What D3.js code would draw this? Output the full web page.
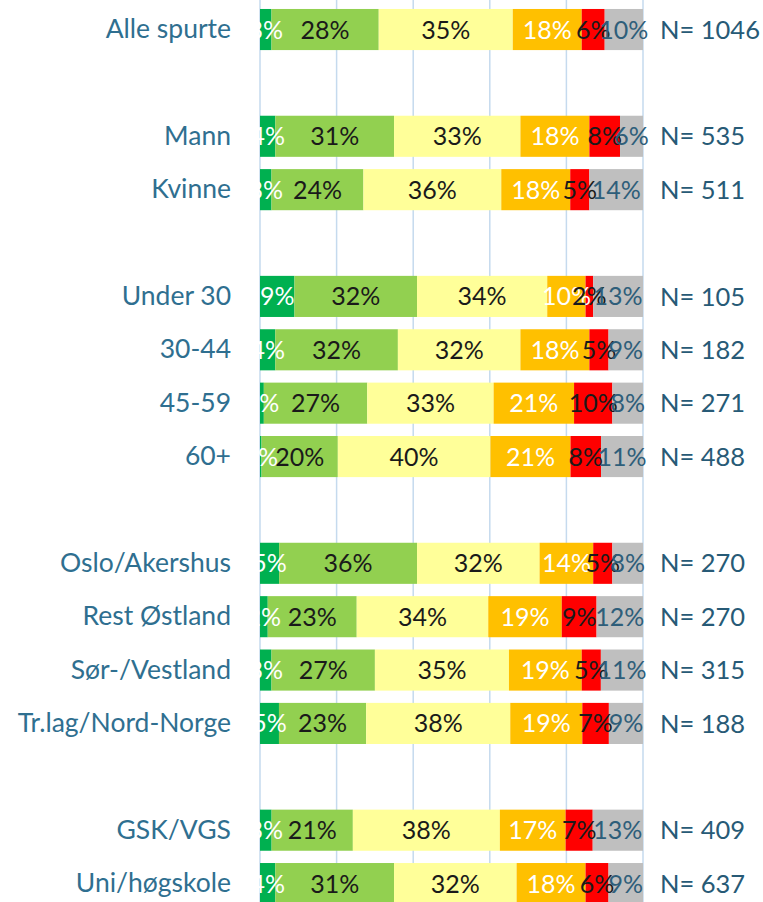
<!DOCTYPE html>
<html>
<head>
<meta charset="utf-8">
<script src="https://cdn.jsdelivr.net/npm/d3@7"></script>
<style>
  html, body { margin: 0; padding: 0; background: #ffffff; }
  svg { display: block; }
</style>
</head>
<body>
<svg id="chart" width="763" height="902"></svg>
<script>
// Row labels; empty strings are spacer rows between groups
const categories = ["Alle spurte", "", "Mann", "Kvinne", "", "Under 30", "30-44", "45-59", "60+", "",
  "Oslo/Akershus", "Rest Østland", "Sør-/Vestland", "Tr.lag/Nord-Norge", "", "GSK/VGS", "Uni/høgskole"];

// Share (%) per answer category, one array per series, aligned with categories
const seriesA = [3, null, 4, 3, null, 9, 4, 1, 0.4, null, 5, 2, 3, 5, null, 3, 4];
const seriesB = [28, null, 31, 24, null, 32, 32, 27, 20, null, 36, 23, 27, 23, null, 21, 31];
const seriesC = [35, null, 33, 36, null, 34, 32, 33, 40, null, 32, 34, 35, 38, null, 38, 32];
const seriesD = [18, null, 18, 18, null, 10, 18, 21, 21, null, 14, 19, 19, 19, null, 17, 18];
const seriesE = [6, null, 8, 5, null, 2, 5, 10, 8, null, 5, 9, 5, 7, null, 7, 6];
const seriesF = [10, null, 6, 14, null, 13, 9, 8, 11, null, 8, 12, 11, 9, null, 13, 9];

// Number of respondents per row
const nCounts = [1046, null, 535, 511, null, 105, 182, 271, 488, null, 270, 270, 315, 188, null, 409, 637];

const seriesKeys = ["a", "b", "c", "d", "e", "f"];
const seriesValues = [seriesA, seriesB, seriesC, seriesD, seriesE, seriesF];
const fillColors = ["#00B050", "#92D050", "#FFFF99", "#FFC000", "#FF0000", "#BFBFBF"];
const labelColors = ["#FFFFFF", "#1A1A1A", "#1A1A1A", "#FFFFFF", "#1A1A1A", "#2E5E7A"];

const svg = d3.select("#chart");
const W = 763, H = 902;
const FONT = "Lato, 'Open Sans', sans-serif";

// Table of non-spacer rows for the stack
const rows = categories.map((c, i) => {
  if (c === "") return null;
  const r = { idx: String(i), label: c, n: nCounts[i] };
  seriesKeys.forEach((k, j) => { r[k] = seriesValues[j][i]; });
  return r;
}).filter(Boolean);

const x = d3.scaleLinear().domain([0, 1]).range([260, 643]);
const y = d3.scaleBand()
  .domain(categories.map((_, i) => String(i)))
  .range([-3.3, 916.4])
  .padding(0.23);

// Vertical gridlines
svg.append("g")
  .selectAll("line")
  .data(x.ticks(5))
  .join("line")
  .attr("x1", d => x(d)).attr("x2", d => x(d))
  .attr("y1", 0).attr("y2", H)
  .attr("stroke", "#C5DAEE")
  .attr("stroke-width", 1.5);

const stack = d3.stack().keys(seriesKeys).offset(d3.stackOffsetExpand);
const stacked = stack(rows);

// Bars
const layers = svg.append("g")
  .selectAll("g")
  .data(stacked)
  .join("g")
  .attr("fill", (d, i) => fillColors[i]);

layers.selectAll("rect")
  .data(d => d)
  .join("rect")
  .attr("x", d => x(d[0]))
  .attr("width", d => x(d[1]) - x(d[0]))
  .attr("y", d => y(d.data.idx))
  .attr("height", y.bandwidth());

// Value labels, clipped at the left edge of the plot
svg.append("defs").append("clipPath").attr("id", "plotClip")
  .append("rect").attr("x", 256.5).attr("y", 0).attr("width", 420).attr("height", H);

const labelLayers = svg.append("g")
  .attr("clip-path", "url(#plotClip)")
  .selectAll("g")
  .data(stacked)
  .join("g")
  .attr("fill", (d, i) => labelColors[i]);

labelLayers.selectAll("text")
  .data((d, i) => d.map(p => ({ p, key: seriesKeys[i] })))
  .join("text")
  .attr("x", d => (x(d.p[0]) + x(d.p[1])) / 2)
  .attr("y", d => y(d.p.data.idx) + y.bandwidth() / 2)
  .attr("dy", "0.36em")
  .attr("text-anchor", "middle")
  .style("font-family", FONT)
  .style("font-size", "25px")
  .text(d => Math.round(d.p.data[d.key]) + "%");

// Category axis on the left
const yAxis = d3.axisLeft(y)
  .tickSize(0)
  .tickPadding(29)
  .tickFormat(i => categories[+i]);

const axisG = svg.append("g")
  .attr("transform", "translate(260,0)")
  .call(yAxis);
axisG.select(".domain").remove();
axisG.selectAll("text")
  .style("font-family", FONT)
  .style("font-size", "26.5px")
  .attr("fill", "#2F6F90");

// Respondent counts on the right
svg.append("g")
  .selectAll("text")
  .data(rows)
  .join("text")
  .attr("x", 660)
  .attr("y", d => y(d.idx) + y.bandwidth() / 2)
  .attr("dy", "0.36em")
  .style("font-family", FONT)
  .style("font-size", "25.5px")
  .attr("fill", "#275A76")
  .text(d => "N= " + d.n);
</script>
</body>
</html>
